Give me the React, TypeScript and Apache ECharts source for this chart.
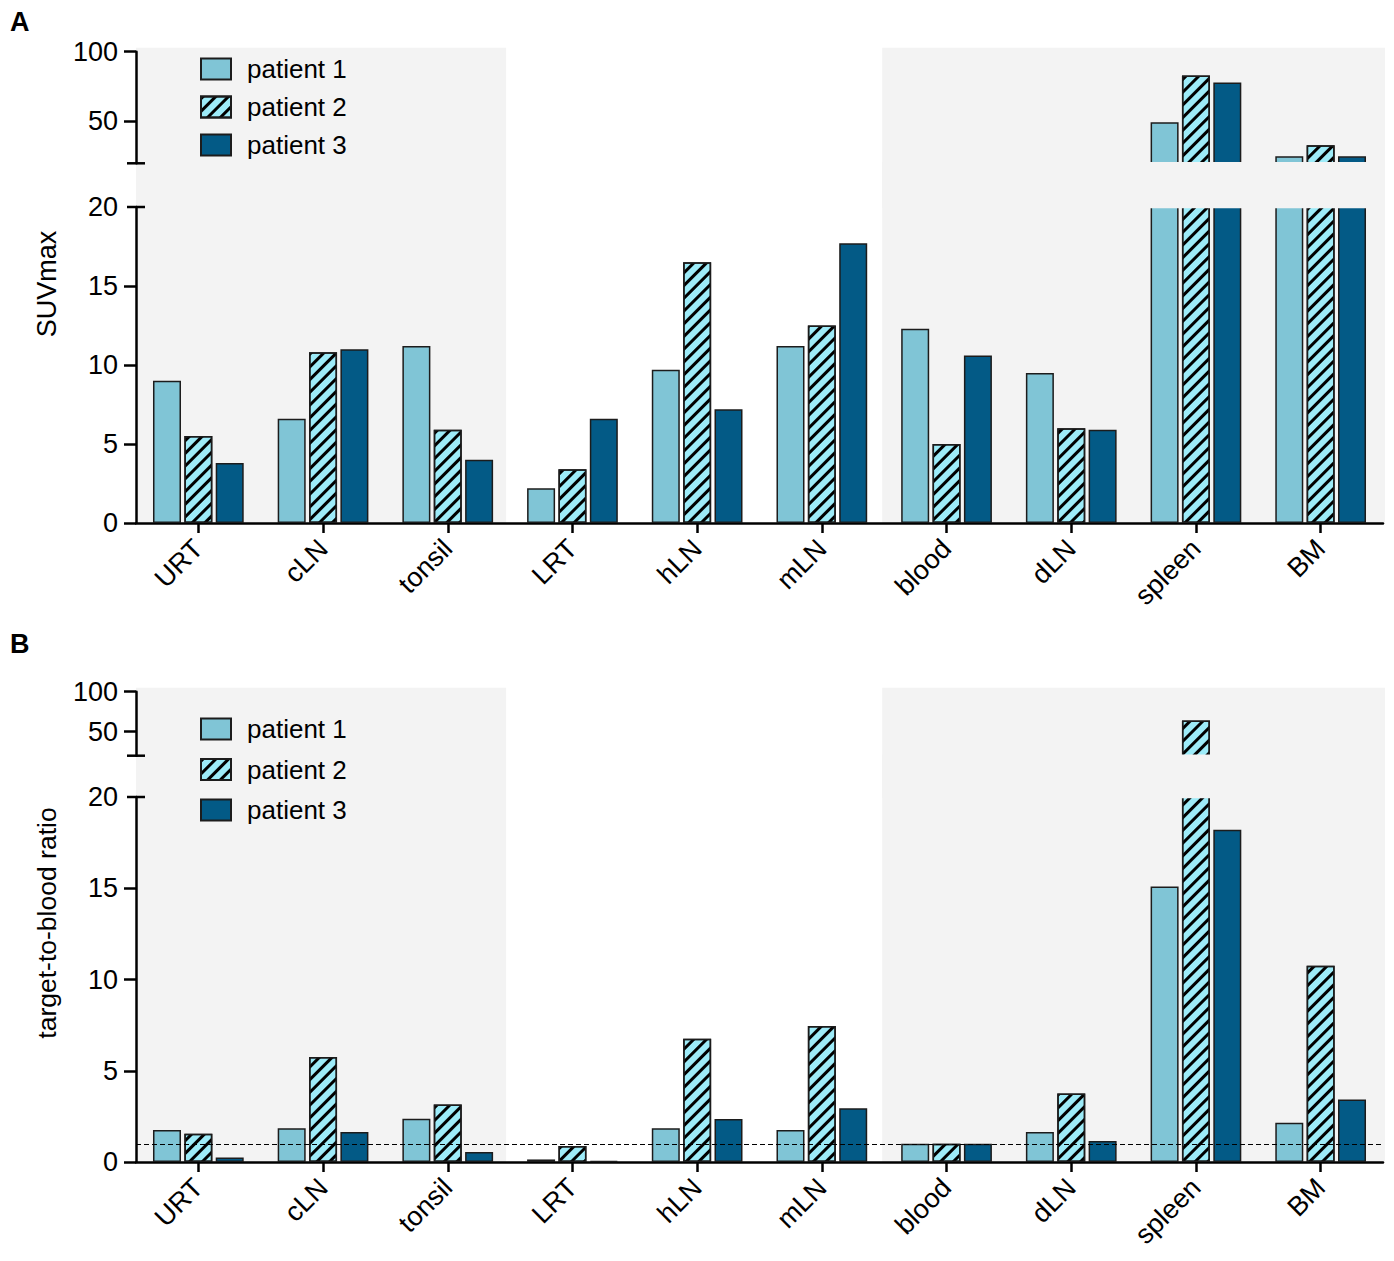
import React, { useEffect, useRef } from "react";
import * as echarts from "echarts";

const categories = ["URT", "cLN", "tonsil", "LRT", "hLN", "mLN", "blood", "dLN", "spleen", "BM"];
const patients = ["patient 1", "patient 2", "patient 3"];

// Panel A: SUVmax
const suvP1 = [9.0, 6.6, 11.2, 2.2, 9.7, 11.2, 12.3, 9.5, 49.5, 25];
const suvP2 = [5.5, 10.8, 5.9, 3.4, 16.5, 12.5, 5.0, 6.0, 83, 33];
const suvP3 = [3.8, 11.0, 4.0, 6.6, 7.2, 17.7, 10.6, 5.9, 78, 25];

// Panel B: target-to-blood ratio
const tbrP1 = [1.75, 1.85, 2.37, 0.14, 1.85, 1.75, 1.0, 1.65, 15.1, 2.15];
const tbrP2 = [1.55, 5.75, 3.15, 0.87, 6.75, 7.45, 1.0, 3.75, 64, 10.75];
const tbrP3 = [0.25, 1.65, 0.55, 0.05, 2.35, 2.95, 1.0, 1.15, 18.2, 3.42];

const upperTicks = [50, 100];
const lowerTicks = [0, 5, 10, 15];
const lowerLabels = [0, 5, 10, 15, 20];
const referenceRatio = 1;

const FONT = "'Liberation Sans', Arial, Helvetica, sans-serif";
const COLORS = ["#80C5D6", "#9DEBF8", "#035A86"];
const BORDER = "#1c1c1c";
const SHADE = "#F3F3F3";

const L = 136;
const W = 1247;
const BAND = W / categories.length;

const grids = [
  { top: 51.7, bottom: 163.3 }, // A upper
  { top: 207, bottom: 523 }, // A lower
  { top: 691.7, bottom: 755.7 }, // B upper
  { top: 797, bottom: 1162 }, // B lower
];

export default function App() {
  const ref = useRef<HTMLDivElement>(null);

  useEffect(() => {
    document.body.style.margin = "0";
    if (!ref.current) return;
    const chart = echarts.init(ref.current, null, { renderer: "svg" });

    const axisLine = { show: true, lineStyle: { color: "#000", width: 2.5 } };
    const tickLabel = { color: "#000", fontSize: 27, fontFamily: FONT, margin: 18 };

    const xAxis = grids.map((g, i) => {
      const lower = i % 2 === 1;
      return {
        type: "category",
        gridIndex: i,
        data: categories,
        show: lower,
        axisLine: axisLine,
        axisTick: { show: true, alignWithLabel: true, length: 10, lineStyle: { color: "#000", width: 2.5 } },
        axisLabel: { rotate: 45, color: "#000", fontSize: 27, fontFamily: FONT, margin: 21, interval: 0 },
        splitLine: { show: false },
      };
    });

    const yAxis = grids.map((g, i) => {
      const lower = i % 2 === 1;
      return {
        type: "value",
        gridIndex: i,
        min: lower ? 0 : 20,
        max: lower ? 20 : 100,
        interval: lower ? 5 : undefined,
        axisLine: axisLine,
        axisTick: {
          show: true,
          length: 12,
          lineStyle: { color: "#000", width: 2.5 },
          customValues: lower ? lowerTicks : upperTicks,
        },
        axisLabel: { ...tickLabel, customValues: lower ? lowerLabels : upperTicks },
        splitLine: { show: false },
      };
    });

    const panelData = [
      [suvP1, suvP2, suvP3],
      [tbrP1, tbrP2, tbrP3],
    ];

    const series: any[] = [];
    grids.forEach((g, gi) => {
      const panel = Math.floor(gi / 2);
      panelData[panel].forEach((vals, pi) => {
        series.push({
          type: "bar",
          name: patients[pi],
          xAxisIndex: gi,
          yAxisIndex: gi,
          data: vals,
          barWidth: 28,
          barGap: "12%",
          clip: true,
          z: 3,
          itemStyle: {
            color: COLORS[pi],
            borderColor: BORDER,
            borderWidth: 1.5,
            decal:
              pi === 1
                ? {
                    symbol: "rect",
                    symbolSize: 1,
                    color: "#000",
                    dashArrayX: [1, 0],
                    dashArrayY: [3, 6],
                    rotation: -Math.PI / 4,
                  }
                : "none",
          },
        });
      });
    });
    series.push({
      type: "line",
      name: "reference",
      xAxisIndex: 3,
      yAxisIndex: 3,
      data: [],
      z: 1,
      silent: true,
      markLine: {
        silent: true,
        symbol: ["none", "none"],
        label: { show: false },
        lineStyle: { color: "#000", width: 1.2, type: [5, 3] },
        data: [{ yAxis: referenceRatio }],
      },
    });

    const shadeRects = (top: number, bottom: number) => [
      {
        type: "rect",
        z: -10,
        silent: true,
        shape: { x: L, y: top, width: 3 * BAND - 4, height: bottom - top },
        style: { fill: SHADE },
      },
      {
        type: "rect",
        z: -10,
        silent: true,
        shape: { x: L + 6 * BAND - 2, y: top, width: W - 6 * BAND + 4, height: bottom - top },
        style: { fill: SHADE },
      },
    ];

    // hides the bar edges at the axis break so the broken bars look open
    const breakMask = (upperBottom: number, lowerTop: number) => ({
      type: "rect",
      z: 50,
      silent: true,
      shape: { x: L + 6 * BAND - 2, y: upperBottom - 1.2, width: W - 6 * BAND + 4, height: lowerTop - upperBottom + 2.4 },
      style: { fill: SHADE },
    });

    const cap = (y: number) => ({
      type: "line",
      z: 60,
      silent: true,
      shape: { x1: L - 9, y1: y, x2: L + 9, y2: y },
      style: { stroke: "#000", lineWidth: 2.5 },
    });

    const graphic: any[] = [
      ...shadeRects(47.7, 523),
      ...shadeRects(687.7, 1162),
      breakMask(grids[0].bottom, grids[1].top),
      breakMask(grids[2].bottom, grids[3].top),
      cap(grids[0].bottom),
      cap(grids[1].top),
      cap(grids[2].bottom),
      cap(grids[3].top),
      {
        type: "text",
        x: 10,
        y: 22,
        style: { text: "A", fontSize: 27, fontWeight: "bold", fill: "#000", fontFamily: FONT, textVerticalAlign: "middle" },
      },
      {
        type: "text",
        x: 10,
        y: 644,
        style: { text: "B", fontSize: 27, fontWeight: "bold", fill: "#000", fontFamily: FONT, textVerticalAlign: "middle" },
      },
      {
        type: "text",
        x: 47,
        y: 284,
        rotation: Math.PI / 2,
        style: { text: "SUVmax", fontSize: 27, fill: "#000", fontFamily: FONT, textAlign: "center", textVerticalAlign: "middle" },
      },
      {
        type: "text",
        x: 47,
        y: 923,
        rotation: Math.PI / 2,
        style: {
          text: "target-to-blood ratio",
          fontSize: 26.5,
          fill: "#000",
          fontFamily: FONT,
          textAlign: "center",
          textVerticalAlign: "middle",
        },
      },
    ];

    const legendBase = {
      orient: "vertical",
      left: 200,
      padding: 0,
      icon: "rect",
      itemWidth: 30,
      itemHeight: 21,
      selectedMode: false,
      data: patients,
      textStyle: { color: "#000", fontSize: 26, fontFamily: FONT, padding: [0, 0, 0, 11] },
    };

    chart.setOption({
      animation: false,
      backgroundColor: "#fff",
      textStyle: { fontFamily: FONT },
      grid: grids.map((g) => ({
        left: L,
        top: g.top,
        width: W,
        height: g.bottom - g.top,
        containLabel: false,
        outerBoundsMode: "none",
      })),
      xAxis,
      yAxis,
      legend: [
        { ...legendBase, top: 56, itemGap: 12 },
        { ...legendBase, top: 716, itemGap: 14.5 },
      ],
      graphic,
      series,
    });

    return () => chart.dispose();
  }, []);

  return <div ref={ref} style={{ width: 1394, height: 1261 }} />;
}
